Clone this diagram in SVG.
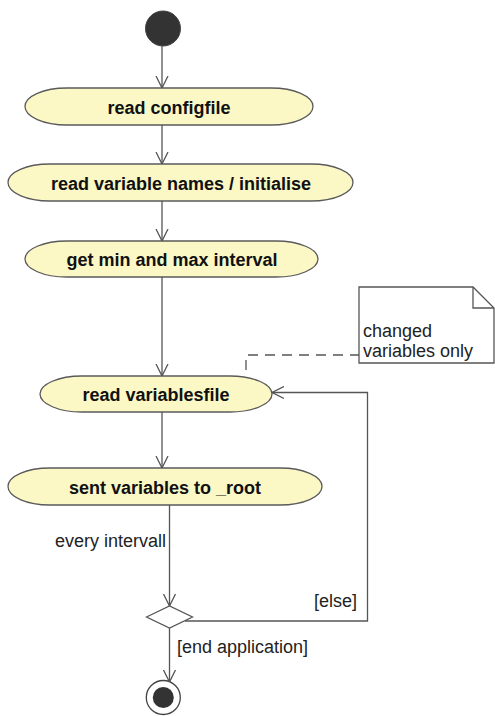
<svg xmlns="http://www.w3.org/2000/svg" width="495" height="716" viewBox="0 0 495 716">
<style>
.act{fill:#FBF8C6;stroke:#5a5a5a;stroke-width:1.3}
.bt{font-family:"Liberation Sans",Arial,sans-serif;font-size:18px;font-weight:bold;fill:#111;text-anchor:middle}
.t{font-family:"Liberation Sans",Arial,sans-serif;font-size:18px;fill:#222}
.ln{fill:none;stroke:#555;stroke-width:1.3}
.ah{fill:none;stroke:#555;stroke-width:1.3}
</style>
<defs>
<marker id="arr" viewBox="0 0 12 14" refX="12" refY="7" markerWidth="12" markerHeight="14" markerUnits="userSpaceOnUse" orient="auto">
<path d="M0,1 L12,7 L0,13" fill="none" stroke="#555" stroke-width="1.3"/>
</marker>
</defs>
<g id="start"><circle cx="163" cy="28.5" r="17.5" fill="#333" stroke="#444" stroke-width="1"/></g>
<g id="n1"><rect class="act" x="25" y="88" width="288" height="37" rx="42" ry="18.5"/><text class="bt" x="169" y="114">read configfile</text></g>
<g id="n2"><rect class="act" x="8" y="164" width="345" height="37" rx="42" ry="18.5"/><text class="bt" x="181" y="190">read variable names / initialise</text></g>
<g id="n3"><rect class="act" x="25" y="241" width="293" height="36" rx="42" ry="18"/><text class="bt" x="172" y="266">get min and max interval</text></g>
<g id="n4"><rect class="act" x="40" y="376" width="232" height="36" rx="42" ry="18"/><text class="bt" x="156" y="401">read variablesfile</text></g>
<g id="n5"><rect class="act" x="8" y="468" width="314" height="37" rx="42" ry="18.5"/><text class="bt" x="165" y="494">sent variables to _root</text></g>
<g id="decision"><polygon points="146.5,617 169.5,606 192.5,617 169.5,628" fill="#fff" stroke="#555" stroke-width="1.3"/></g>
<g id="end"><circle cx="163.3" cy="697.5" r="17" fill="#fff" stroke="#444" stroke-width="1.3"/><circle cx="163.3" cy="697.5" r="10.5" fill="#333"/></g>
<g id="note"><polygon points="359,287 473,287 494,308 494,363 359,363" fill="#fff" stroke="#555" stroke-width="1.3"/><polyline points="473,287 473,308 494,308" fill="none" stroke="#555" stroke-width="1.3"/><text class="t" x="363" y="337">changed</text><text class="t" x="363" y="357">variables only</text></g>
<g id="connectors">
<line class="ln" x1="162" y1="46" x2="162" y2="88" marker-end="url(#arr)"/>
<line class="ln" x1="162" y1="125" x2="162" y2="164" marker-end="url(#arr)"/>
<line class="ln" x1="162" y1="201" x2="162" y2="241" marker-end="url(#arr)"/>
<line class="ln" x1="162" y1="277" x2="162" y2="376" marker-end="url(#arr)"/>
<line class="ln" x1="162" y1="412" x2="162" y2="468" marker-end="url(#arr)"/>
<line class="ln" x1="169.5" y1="505" x2="169.5" y2="606" marker-end="url(#arr)"/>
<line class="ln" x1="169.5" y1="628" x2="169.5" y2="682" marker-end="url(#arr)"/>
<path class="ln" d="M185,621 H367.5 V392.5 H272" marker-end="url(#arr)"/>
<path class="ln" d="M246,370 V355 H359" stroke-dasharray="10,7"/>
<text class="t" x="55" y="547">every intervall</text>
<text class="t" x="314" y="607">[else]</text>
<text class="t" x="177" y="653">[end application]</text>
</g>
</svg>
